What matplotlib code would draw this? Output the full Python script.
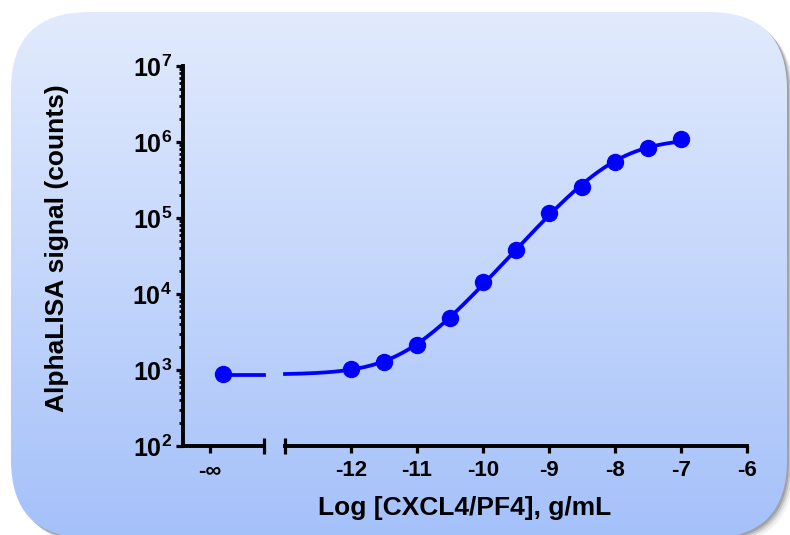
import numpy as np
import matplotlib
matplotlib.use('Agg')
import matplotlib.pyplot as plt
from matplotlib.patches import FancyBboxPatch
from matplotlib.ticker import FixedLocator, LogLocator, NullFormatter

# ---------------- data ----------------
log_conc = [-12, -11.5, -11, -10.5, -10, -9.5, -9, -8.5, -8, -7.5, -7]
signal = [1030, 1270, 2130, 4830, 14400, 37900, 116000, 256000, 546000, 833000, 1090000]
zero_label = '-\u221e'
zero_signal = 885
x_ticks = [-12, -11, -10, -9, -8, -7, -6]
x_tick_labels = ['-12', '-11', '-10', '-9', '-8', '-7', '-6']
y_ticks = [1e2, 1e3, 1e4, 1e5, 1e6, 1e7]
y_tick_labels = [r'$\mathregular{10^{2}}$', r'$\mathregular{10^{3}}$', r'$\mathregular{10^{4}}$',
                 r'$\mathregular{10^{5}}$', r'$\mathregular{10^{6}}$', r'$\mathregular{10^{7}}$']
x_label = 'Log [CXCL4/PF4], g/mL'
y_label = 'AlphaLISA signal (counts)'

# ---------------- 4PL fit (grid search in log space) ----------------
xd = np.array(log_conc)
yd = np.log10(np.array(signal))
best = None
tops = np.logspace(5.8, 6.8, 41)[:, None, None, None]
cs = np.linspace(-10.5, -7.0, 71)[None, :, None, None]
hs = np.linspace(0.5, 1.6, 45)[None, None, :, None]
for b in np.logspace(2.8, 3.1, 16):
    pred = b + (tops - b) / (1 + 10 ** ((cs - xd[None, None, None, :]) * hs))
    err = ((np.log10(pred) - yd) ** 2).sum(axis=-1) + (np.log10(b) - np.log10(zero_signal)) ** 2
    idx = np.unravel_index(np.argmin(err), err.shape)
    if best is None or err[idx] < best[0]:
        best = (err[idx], b, tops.ravel()[idx[0]], cs.ravel()[idx[1]], hs.ravel()[idx[2]])
_, fb, ft, fc, fh = best


def fourpl(x):
    return fb + (ft - fb) / (1 + 10 ** ((fc - x) * fh))


# ---------------- figure ----------------
plt.rcParams['font.family'] = ['Liberation Sans', 'DejaVu Sans']
plt.rcParams['font.weight'] = 'bold'
plt.rcParams['mathtext.fontset'] = 'custom'
plt.rcParams['mathtext.rm'] = 'Liberation Sans:bold'
plt.rcParams['mathtext.bf'] = 'Liberation Sans:bold'

W, H = 790, 535
fig = plt.figure(figsize=(W / 100, H / 100), dpi=100)
fig.patch.set_facecolor('white')

# background rounded panel with gradient and shadow
bg = fig.add_axes([0, 0, 1, 1])
bg.set_xlim(0, W)
bg.set_ylim(H, 0)
bg.axis('off')
for off, a in [(7, 0.07), (5, 0.11), (3.5, 0.17), (2, 0.24)]:
    sh = FancyBboxPatch((11 + off, 12 + off), 776, 526, boxstyle='round,pad=0,rounding_size=78',
                        facecolor='#404040', edgecolor='none', alpha=a, zorder=0)
    bg.add_patch(sh)
panel = FancyBboxPatch((11, 12), 776, 526, boxstyle='round,pad=0,rounding_size=78',
                       facecolor='none', edgecolor='none', zorder=1)
bg.add_patch(panel)
top_c = np.array([0xe2, 0xeb, 0xfd]) / 255
bot_c = np.array([0xa5, 0xc1, 0xfa]) / 255
t = np.linspace(0, 1, 256)[:, None]
grad = (top_c[None, :] * (1 - t) + bot_c[None, :] * t)[:, None, :]
im = bg.imshow(grad, extent=(11, 787, 538, 12), aspect='auto', zorder=1, interpolation='bilinear')
im.set_clip_path(panel)

bottom_f = 1 - 446 / H
top_f = 1 - 66 / H
ax_l = fig.add_axes([183 / W, bottom_f, (264 - 183) / W, top_f - bottom_f])
ax_r = fig.add_axes([285 / W, bottom_f, (747 - 285) / W, top_f - bottom_f], sharey=ax_l)
for a in (ax_l, ax_r):
    a.patch.set_alpha(0)
    a.set_yscale('log')
    a.set_ylim(1e2, 1e7)
    for s in ('top', 'right'):
        a.spines[s].set_visible(False)
    a.spines['bottom'].set_linewidth(2.8)
    a.spines['left'].set_linewidth(2.8)
ax_r.spines['left'].set_visible(False)

blue = '#0000ff'
lw = 2.7
ms = 11.5

# left (-inf) segment
ax_l.set_xlim(0, 1)
ax_l.plot([0.494], [zero_signal], 'o', color=blue, ms=ms, clip_on=False, zorder=5)
ax_l.plot([0.494, 1.0], [fb, fb], color=blue, lw=lw, clip_on=False, zorder=4)
ax_l.xaxis.set_major_locator(FixedLocator([0.333]))
ax_l.set_xticklabels([zero_label])
ax_l.xaxis.set_minor_locator(FixedLocator([1.0]))

# right segment
ax_r.set_xlim(-13, -6)
xs = np.linspace(-13, -7, 300)
ax_r.plot(xs, fourpl(xs), color=blue, lw=lw, zorder=4, clip_on=False)
ax_r.plot(log_conc, signal, 'o', color=blue, ms=ms, zorder=5, clip_on=False)
ax_r.xaxis.set_major_locator(FixedLocator(x_ticks))
ax_r.set_xticklabels(x_tick_labels)
ax_r.xaxis.set_minor_locator(FixedLocator([-13]))

for a in (ax_l, ax_r):
    a.tick_params(axis='x', which='major', direction='out', length=5, width=2.3,
                  labelsize=16, pad=5)
    a.tick_params(axis='x', which='minor', direction='inout', length=11, width=2.3)
ax_r.tick_params(axis='y', which='both', left=False, labelleft=False)

ax_l.yaxis.set_major_locator(FixedLocator(y_ticks))
ax_l.set_yticklabels(y_tick_labels)
ax_l.yaxis.set_minor_locator(LogLocator(base=10, subs=np.arange(2, 10)))
ax_l.yaxis.set_minor_formatter(NullFormatter())
ax_l.tick_params(axis='y', which='major', direction='out', length=5, width=2.3,
                 labelsize=18, pad=3)
ax_l.tick_params(axis='y', which='minor', direction='out', length=2.8, width=2.0)
for lab in ax_l.get_xticklabels() + ax_r.get_xticklabels() + ax_l.get_yticklabels():
    lab.set_fontweight('bold')

fig.text(465 / W, 1 - 515 / H, x_label, ha='center', va='baseline', fontsize=19, fontweight='bold')
fig.text(57 / W, 1 - 248 / H, y_label, ha='center', va='center', rotation=90, fontsize=19,
         fontweight='bold')

fig.savefig('out.png', dpi=100)
